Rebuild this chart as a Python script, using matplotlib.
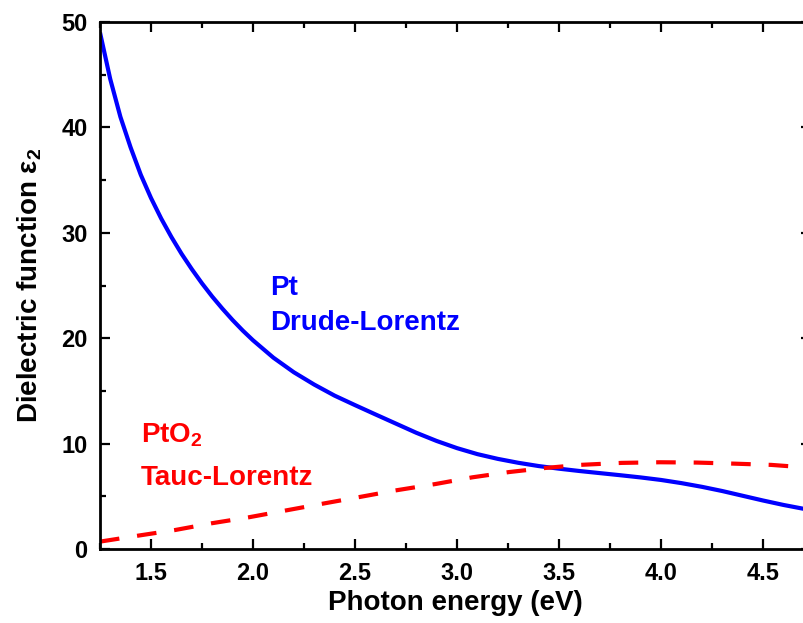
import matplotlib
matplotlib.use('Agg')
import matplotlib.pyplot as plt
from matplotlib.ticker import MultipleLocator

plt.rcParams['font.family'] = ['Liberation Sans', 'DejaVu Sans']
plt.rcParams['font.weight'] = 'bold'
plt.rcParams['mathtext.fontset'] = 'custom'
plt.rcParams['mathtext.rm'] = 'Liberation Sans:bold'
plt.rcParams['mathtext.it'] = 'Liberation Sans:bold'
plt.rcParams['mathtext.bf'] = 'Liberation Sans:bold'

# Pt, Drude-Lorentz
pt_energy = [1.25, 1.30, 1.35, 1.40, 1.45, 1.50, 1.55, 1.60, 1.65, 1.70,
             1.75, 1.80, 1.85, 1.90, 1.95, 2.00, 2.10, 2.20, 2.30, 2.40,
             2.50, 2.60, 2.70, 2.80, 2.90, 3.00, 3.10, 3.20, 3.30, 3.40,
             3.50, 3.60, 3.70, 3.80, 3.90, 4.00, 4.10, 4.20, 4.30, 4.40,
             4.50, 4.60, 4.735]
pt_eps2 = [49.0, 44.6, 41.0, 38.1, 35.5, 33.3, 31.35, 29.6, 28.0, 26.55,
           25.2, 23.95, 22.8, 21.72, 20.72, 19.8, 18.15, 16.77, 15.6, 14.55,
           13.65, 12.77, 11.9, 11.03, 10.25, 9.57, 9.0, 8.55, 8.18, 7.87,
           7.62, 7.4, 7.2, 7.0, 6.79, 6.55, 6.25, 5.9, 5.5, 5.05,
           4.6, 4.18, 3.68]

# PtO2, Tauc-Lorentz
pto2_energy = [1.25, 1.438, 1.618, 1.797, 1.977, 2.173, 2.353, 2.533, 2.696,
               2.896, 3.075, 3.255, 3.434, 3.603, 3.807, 3.995, 4.175, 4.355,
               4.54, 4.735]
pto2_eps2 = [0.7, 1.27, 1.8, 2.44, 3.0, 3.7, 4.34, 4.97, 5.55,
             6.17, 6.8, 7.3, 7.69, 7.98, 8.17, 8.23, 8.2, 8.1,
             7.98, 7.7]

fig = plt.figure(figsize=(8.04, 6.23), dpi=100)
ax = fig.add_axes([100 / 804, 74 / 623, 711 / 804, 527 / 623])

ax.plot(pt_energy, pt_eps2, color='#0000ff', lw=3.0, solid_capstyle='butt',
        solid_joinstyle='round')
ax.plot(pto2_energy, pto2_eps2, color='#ff0000', lw=3.0,
        dashes=(4.7, 4.3), dash_capstyle='butt')

ax.set_xlim(1.25, 4.735)
ax.set_ylim(0, 50)
ax.xaxis.set_minor_locator(MultipleLocator(0.25))
ax.yaxis.set_major_locator(MultipleLocator(10))
ax.yaxis.set_minor_locator(MultipleLocator(5))
ax.set_xticks([1.5, 2.0, 2.5, 3.0, 3.5, 4.0, 4.5])
ax.set_xticklabels(['1.5', '2.0', '2.5', '3.0', '3.5', '4.0', '4.5'])

ax.tick_params(which='both', direction='in', top=True, right=True,
               labelsize=17, width=1.6)
ax.tick_params(which='major', length=7, pad=9)
ax.tick_params(which='minor', length=4)
for s in ax.spines.values():
    s.set_linewidth(2)

ax.set_xlabel('Photon energy (eV)', fontsize=20, fontweight='bold', labelpad=4)
ax.set_ylabel('Dielectric function ε$_2$', fontsize=20, fontweight='bold', labelpad=12)

ax.text(2.083, 24.1, 'Pt', color='#0000ff', fontsize=20, fontweight='bold', va='baseline')
ax.text(2.083, 20.8, 'Drude-Lorentz', color='#0000ff', fontsize=20, fontweight='bold', va='baseline')
ax.text(1.449, 10.07, 'PtO$_2$', color='#ff0000', fontsize=20, fontweight='bold', va='baseline')
ax.text(1.449, 6.08, 'Tauc-Lorentz', color='#ff0000', fontsize=20, fontweight='bold', va='baseline')

fig.savefig('out.png', dpi=100)
